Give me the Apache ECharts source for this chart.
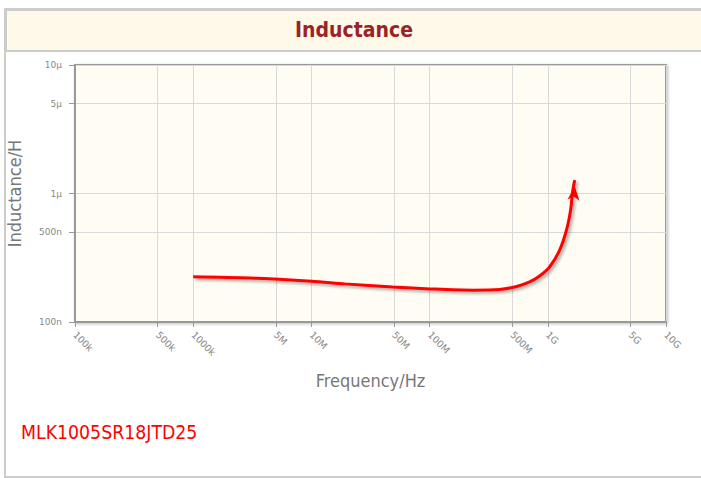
<!DOCTYPE html>
<html>
<head>
<meta charset="utf-8">
<script src="https://cdn.jsdelivr.net/npm/echarts@6/dist/echarts.min.js"></script>
<style>
html,body{margin:0;padding:0;background:#ffffff;}
#chart{width:701px;height:478px;}
</style>
</head>
<body>
<div id="chart"></div>
<script>
// ---- data ----
const freqHz = [1e6, 3.02e6, 1.0e7, 1.92e7, 4.88e7, 1.0e8, 2.31e8, 3.92e8, 5.45e8, 7.02e8, 8.53e8, 1.035e9, 1.26e9, 1.44e9, 1.56e9, 1.62e9, 1.69e9];
const inductanceH = [2.25e-7, 2.20e-7, 2.08e-7, 1.98e-7, 1.87e-7, 1.81e-7, 1.77e-7, 1.79e-7, 1.89e-7, 2.05e-7, 2.28e-7, 2.68e-7, 3.63e-7, 5.20e-7, 7.44e-7, 1.03e-6, 1.27e-6];
const xTickValues = [1e5, 5e5, 1e6, 5e6, 1e7, 5e7, 1e8, 5e8, 1e9, 5e9, 1e10];
const xTickLabels = ['100k', '500k', '1000k', '5M', '10M', '50M', '100M', '500M', '1G', '5G', '10G'];
const yTickValues = [1e-7, 5e-7, 1e-6, 5e-6, 1e-5];
const yTickLabels = ['100n', '500n', '1\u00b5', '5\u00b5', '10\u00b5'];
const chartTitle = 'Inductance';
const partNumber = 'MLK1005SR18JTD25';
const xName = 'Frequency/Hz';
const yName = 'Inductance/H';

function lookup(values, labels) {
  return function (v) {
    for (let i = 0; i < values.length; i++) {
      if (Math.abs(Math.log10(v) - Math.log10(values[i])) < 1e-4) return labels[i];
    }
    return '';
  };
}

const seriesData = freqHz.map(function (f, i) {
  const item = { value: [f, inductanceH[i]] };
  if (i === freqHz.length - 1) {
    item.symbol = 'arrow';
    item.symbolSize = [9, 14];
    item.symbolOffset = [0, 6];
    item.symbolRotate = -5;
  }
  return item;
});

const chart = echarts.init(document.getElementById('chart'), null, { renderer: 'svg' });
const gray = '#777';
chart.setOption({
  animation: false,
  backgroundColor: '#ffffff',
  graphic: [
    { type: 'rect', z: -10, shape: { x: 5, y: 9, width: 720, height: 468 },
      style: { fill: '#ffffff', stroke: '#cccccc', lineWidth: 2 } },
    { type: 'rect', z: -9, shape: { x: 6, y: 10, width: 720, height: 41 },
      style: { fill: '#fff9ea', stroke: '#cccccc', lineWidth: 2 } },
    { type: 'text', z: 10, style: { text: chartTitle, x: 354, y: 30, align: 'center', verticalAlign: 'middle',
      font: 'bold 21px "DejaVu Sans Condensed", "DejaVu Sans", sans-serif', fill: '#9b2226' } },
    { type: 'text', z: 10, style: { text: partNumber, x: 21, y: 432, align: 'left', verticalAlign: 'middle',
      font: '19.3px "DejaVu Sans Condensed", "DejaVu Sans", sans-serif', fill: '#ff0000' } }
  ],
  grid: {
    left: 75, top: 65, right: 35, bottom: 156,
    containLabel: false, outerBoundsMode: 'none',
    show: true, backgroundColor: '#fffcf4', borderColor: '#999999', borderWidth: 2,
    shadowColor: 'rgba(0,0,0,0.25)', shadowBlur: 3, shadowOffsetX: 1, shadowOffsetY: 1
  },
  xAxis: {
    type: 'log', logBase: 10, min: 1e5, max: 1e10,
    name: xName, nameLocation: 'middle', nameGap: 49,
    nameTextStyle: { color: gray, fontSize: 18, fontFamily: '"DejaVu Sans Condensed", "DejaVu Sans", sans-serif' },
    axisLine: { show: true, lineStyle: { color: '#999999', width: 2 } },
    axisTick: { show: true, customValues: xTickValues, length: 5, lineStyle: { color: '#999999' } },
    axisLabel: { customValues: xTickValues, formatter: lookup(xTickValues, xTickLabels), rotate: -45, margin: 11,
      color: '#888', fontSize: 9.5, fontFamily: '"DejaVu Sans", sans-serif' },
    splitLine: { show: true, customValues: xTickValues, lineStyle: { color: '#d9d9d9', width: 1 } }
  },
  yAxis: {
    type: 'log', logBase: 10, min: 1e-7, max: 1e-5,
    name: yName, nameLocation: 'middle', nameGap: 52, nameRotate: 90,
    nameTextStyle: { color: gray, fontSize: 18, fontFamily: '"DejaVu Sans Condensed", "DejaVu Sans", sans-serif' },
    axisLine: { show: true, lineStyle: { color: '#999999', width: 2 } },
    axisTick: { show: true, customValues: yTickValues, length: 6, lineStyle: { color: '#999999' } },
    axisLabel: { customValues: yTickValues, formatter: lookup(yTickValues, yTickLabels), margin: 13,
      color: '#888', fontSize: 9, fontFamily: '"DejaVu Sans", sans-serif' },
    splitLine: { show: true, customValues: yTickValues, lineStyle: { color: '#d9d9d9', width: 1 } }
  },
  series: [{
    type: 'line',
    data: seriesData,
    smooth: 0.3,
    symbol: 'none',
    showSymbol: true,
    itemStyle: { color: '#ff0000' },
    lineStyle: { color: '#ff0000', width: 3, shadowColor: 'rgba(0,0,0,0.35)', shadowBlur: 3, shadowOffsetX: 2, shadowOffsetY: 2 }
  }]
});
</script>
</body>
</html>
